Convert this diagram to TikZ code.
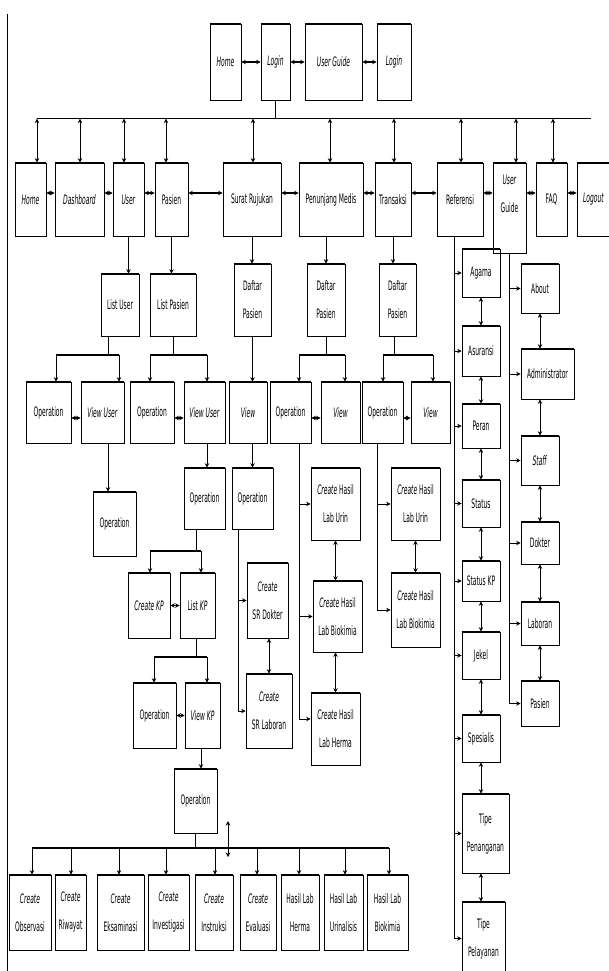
\documentclass[tikz,border=0pt]{standalone}
\usepackage{fontspec}
\newfontfamily\diafont{DejaVu Sans}[FakeStretch=0.46]
\usetikzlibrary{arrows.meta}

\tikzset{
  box/.style={draw, line width=0.7pt, inner sep=1pt, align=center,
    font=\diafont\fontsize{13}{28}\selectfont},
  edge/.style={line width=1.6pt},
  con/.style={line width=0.8pt},
  link/.style={<->, line width=1.3pt},
  bus/.style={line width=1.6pt},
}

\begin{document}
\begin{tikzpicture}[x=1pt,y=-1pt,>={Stealth[length=4.5pt,width=4.5pt]}]
  \useasboundingbox (0,0) rectangle (608,971);
  \draw[line width=0.8pt] (7,14) -- (7,971);

  % top row
  \node[box, minimum width=31, minimum height=76] (tHome)   at (225.5,62) {\textit{Home}};
  \node[box, minimum width=29, minimum height=76] (tLogin)  at (275.5,62) {\textit{Login}};
  \node[box, minimum width=57, minimum height=76] (tGuide)  at (333.5,62) {\textit{User Guide}};
  \node[box, minimum width=34, minimum height=76] (tLogin2) at (394,62)   {\textit{Login}};

  % main menu
  \node[box, minimum width=31, minimum height=73] (home)      at (30.5,199.5)  {\textit{Home}};
  \node[box, minimum width=49, minimum height=73] (dash)      at (79.5,199.5)  {\textit{Dashboard}};
  \node[box, minimum width=31, minimum height=73] (user)      at (128.5,199.5) {\textit{User}};
  \node[box, minimum width=33, minimum height=73] (pasien)    at (171.5,199.5) {Pasien};
  \node[box, minimum width=58, minimum height=73] (surat)     at (252,199.5)   {Surat Rujukan};
  \node[box, minimum width=64, minimum height=73] (penunjang) at (331,199.5)   {Penunjang Medis};
  \node[box, minimum width=36, minimum height=73] (transaksi) at (393,199.5)   {Transaksi};
  \node[box, minimum width=46, minimum height=73] (referensi) at (460,199.5)   {Referensi};
  \node[box, minimum width=33, minimum height=90] (guide)     at (509.5,208)   {\textit{User}\\Guide\\\mbox{}};
  \node[box, minimum width=31, minimum height=73] (faq)       at (551.5,199.5) {FAQ};
  \node[box, minimum width=33, minimum height=73] (logout)    at (593.5,199.5) {\textit{Logout}};

  % lists
  \node[box, minimum width=38, minimum height=62] (listUser)   at (120,305)   {List User};
  \node[box, minimum width=46, minimum height=62] (listPasien) at (173,305)   {List Pasien};
  \node[box, minimum width=37, minimum height=72] (daftarSR)   at (252.5,300) {Daftar\\Pasien};
  \node[box, minimum width=38, minimum height=72] (daftarPM)   at (326,300)   {Daftar\\Pasien};
  \node[box, minimum width=37, minimum height=72] (daftarTR)   at (397.5,300) {Daftar\\Pasien};

  % operation / view
  \node[box, minimum width=45, minimum height=61] (opU)    at (48.5,412.5)  {Operation};
  \node[box, minimum width=43, minimum height=61] (viewU)  at (102.5,412.5) {\textit{View User}};
  \node[box, minimum width=44, minimum height=61] (opP)    at (152,412.5)   {Operation};
  \node[box, minimum width=41, minimum height=61] (viewP)  at (204.5,412.5) {\textit{View User}};
  \node[box, minimum width=38, minimum height=61] (viewSR) at (248,412.5)   {\textit{View}};
  \node[box, minimum width=41, minimum height=61] (opPM)   at (290.5,412.5) {Operation};
  \node[box, minimum width=39, minimum height=61] (viewPM) at (340.5,412.5) {\textit{View}};
  \node[box, minimum width=41, minimum height=61] (opTR)   at (382.5,412.5) {Operation};
  \node[box, minimum width=39, minimum height=61] (viewTR) at (430.5,412.5) {\textit{View}};

  \node[box, minimum width=43, minimum height=64] (opUv)   at (114.5,524)   {Operation};
  \node[box, minimum width=41, minimum height=61] (opPv)   at (204.5,498.5) {Operation};
  \node[box, minimum width=41, minimum height=61] (opSR)   at (252.5,498.5) {Operation};
  \node[box, minimum width=49, minimum height=72] (urinPM) at (335.5,504)   {\textit{Create} Hasil\\Lab Urin};
  \node[box, minimum width=49, minimum height=72] (urinTR) at (415.5,504)   {\textit{Create} Hasil\\Lab Urin};

  \node[box, minimum width=42, minimum height=65] (createKP) at (149,605.5)   {\textit{Create KP}};
  \node[box, minimum width=35, minimum height=65] (listKP)   at (197.5,605.5) {List \textit{KP}};
  \node[box, minimum width=41, minimum height=75] (srDokter) at (267.5,600.5) {\textit{Create}\\SR Dokter};
  \node[box, minimum width=49, minimum height=71] (bioPM)    at (337.5,616.5) {\textit{Create} Hasil\\Lab Biokimia};
  \node[box, minimum width=49, minimum height=74] (bioTR)    at (415.5,610)   {\textit{Create} Hasil\\Lab Biokimia};

  \node[box, minimum width=43, minimum height=65] (opKP)   at (154.5,715.5) {Operation};
  \node[box, minimum width=35, minimum height=65] (viewKP) at (202.5,715.5) {\textit{View KP}};
  \node[box, minimum width=46, minimum height=74] (srLab)  at (269,711)     {\textit{Create}\\SR Laboran};
  \node[box, minimum width=49, minimum height=72] (herma)  at (335.5,729)   {\textit{Create} Hasil\\Lab Herma};

  \node[box, minimum width=43, minimum height=64] (opFin)  at (195.5,801)   {Operation};

  % bottom row
  \node[box, minimum width=42, minimum height=75] (observasi)   at (30,912.5)    {\textit{Create}\\Observasi};
  \node[box, minimum width=31, minimum height=75] (riwayat)     at (70.5,912.5)  {\textit{Create}\\Riwayat};
  \node[box, minimum width=47, minimum height=75] (eksaminasi)  at (120.5,912.5) {\textit{Create}\\Eksaminasi};
  \node[box, minimum width=41, minimum height=75] (investigasi) at (168.5,912.5) {\textit{Create}\\Investigasi};
  \node[box, minimum width=38, minimum height=75] (instruksi)   at (214,912.5)   {\textit{Create}\\Instruksi};
  \node[box, minimum width=36, minimum height=75] (evaluasi)    at (258,912.5)   {\textit{Create}\\Evaluasi};
  \node[box, minimum width=38, minimum height=75] (hHerma)      at (300,912.5)   {Hasil Lab\\Herma};
  \node[box, minimum width=39, minimum height=75] (hUrin)       at (343.5,912.5) {Hasil Lab\\Urinalisis};
  \node[box, minimum width=41, minimum height=75] (hBio)        at (387.5,912.5) {Hasil Lab\\Biokimia};

  % referensi
  \node[box, minimum width=38, minimum height=48] (agama)     at (481,273)     {Agama};
  \node[box, minimum width=38, minimum height=50] (asuransi)  at (481,351)     {Asuransi};
  \node[box, minimum width=38, minimum height=44] (peran)     at (481,426)     {Peran};
  \node[box, minimum width=38, minimum height=47] (status)    at (481,503.5)   {Status};
  \node[box, minimum width=38, minimum height=40] (statusKP)  at (481,581)     {Status KP};
  \node[box, minimum width=38, minimum height=47] (jekel)     at (481,655.5)   {Jekel};
  \node[box, minimum width=38, minimum height=47] (spesialis) at (481,738.5)   {Spesialis};
  \node[box, minimum width=47, minimum height=79] (tipePen)   at (485.5,833.5) {Tipe\\Penanganan};
  \node[box, minimum width=43, minimum height=73] (tipePel)   at (483.5,938.5) {Tipe\\Pelayanan};

  % user guide
  \node[box, minimum width=38, minimum height=49] (about)   at (540,288.5)   {About};
  \node[box, minimum width=53, minimum height=50] (admin)   at (547.5,374)   {Administrator};
  \node[box, minimum width=38, minimum height=49] (staff)   at (540,460.5)   {\textit{Staff}};
  \node[box, minimum width=38, minimum height=42] (dokter)  at (540,543)     {Dokter};
  \node[box, minimum width=38, minimum height=43] (laboran) at (540,623.5)   {Laboran};
  \node[box, minimum width=38, minimum height=45] (pasienG) at (540,703.5)   {Pasien};

  % heavy top and bottom edges
  \foreach \n in {tHome,tLogin,tGuide,tLogin2,home,dash,user,pasien,surat,penunjang,
    transaksi,referensi,guide,faq,logout,listUser,listPasien,daftarSR,daftarPM,daftarTR,
    opU,viewU,opP,viewP,viewSR,opPM,viewPM,opTR,viewTR,opUv,opPv,opSR,urinPM,urinTR,
    createKP,listKP,srDokter,bioPM,bioTR,opKP,viewKP,srLab,herma,opFin,
    observasi,riwayat,eksaminasi,investigasi,instruksi,evaluasi,hHerma,hUrin,hBio,
    agama,asuransi,peran,status,statusKP,jekel,spesialis,tipePen,tipePel,
    about,admin,staff,dokter,laboran,pasienG}
    \draw[edge] (\n.north west) -- (\n.north east) (\n.south west) -- (\n.south east);

  % top links and bus
  \draw[link] (tHome) -- (tLogin);
  \draw[link] (tLogin) -- (tGuide);
  \draw[link] (tGuide) -- (tLogin2);
  \coordinate (busL) at (37,118.6);
  \coordinate (busR) at (591,118.6);
  \draw[con] (tLogin.south) -- (tLogin.south |- busL);
  \draw[bus] (busL) -- (busR);
  \foreach \x/\n in {37/home,80/dash,124/user,166/pasien,253/surat,330/penunjang,
    394/transaksi,461/referensi,516/guide,553/faq} {
    \coordinate (d) at (\x,118.6);
    \draw[con,<->] (d) -- (d |- \n.north);
  }
  \coordinate (r2) at (0,193);
  \foreach \a/\b in {home/dash,dash/user,user/pasien,pasien/surat,surat/penunjang,
    penunjang/transaksi,transaksi/referensi,referensi/guide,guide/faq,faq/logout}
    \draw[link] (\a.east |- r2) -- (\b.west |- r2);

  % menu to lists
  \draw[con,->] (user.south) -- (user.south |- listUser.north);
  \draw[con,->] (pasien.south) -- (pasien.south |- listPasien.north);
  \draw[con,->] (surat.south) -- (surat.south |- daftarSR.north);
  \draw[con,->] (daftarPM.north |- penunjang.south) -- (daftarPM.north);
  \draw[con,->] (transaksi.south) -- (transaksi.south |- daftarTR.north);

  % list buses
  \coordinate (uA) at (56,355);  \coordinate (uS) at (108,355); \coordinate (uB) at (119,355);
  \coordinate (pA) at (150,355); \coordinate (pB) at (207,355);
  \coordinate (mA) at (299,355); \coordinate (mB) at (345,355);
  \coordinate (tA) at (383,355); \coordinate (tS) at (394,355); \coordinate (tB) at (433,355);
  \draw[con] (uS |- listUser.south) -- (uS);
  \draw[con] (listPasien.south) -- (listPasien.south |- pA);
  \draw[con] (daftarPM.south) -- (daftarPM.south |- mA);
  \draw[con] (tS |- daftarTR.south) -- (tS);
  \draw[bus] (uA) -- (uB) (pA) -- (pB) (mA) -- (mB) (tA) -- (tB);
  \draw[con,->] (uA) -- (uA |- opU.north);
  \draw[con,->] (uB) -- (uB |- viewU.north);
  \draw[con,->] (pA) -- (pA |- opP.north);
  \draw[con,->] (pB) -- (pB |- viewP.north);
  \draw[con,->] (mA) -- (mA |- opPM.north);
  \draw[con,->] (mB) -- (mB |- viewPM.north);
  \draw[con,->] (tA) -- (tA |- opTR.north);
  \draw[con,->] (tB) -- (tB |- viewTR.north);
  \draw[con,->] (daftarSR.south) -- (daftarSR.south |- viewSR.north);

  \coordinate (r4) at (0,418);
  \foreach \a/\b in {opU/viewU,opP/viewP,opPM/viewPM,opTR/viewTR}
    \draw[link] (\a.east |- r4) -- (\b.west |- r4);

  % view to operation
  \draw[con,->] (uS |- viewU.south) -- (uS |- opUv.north);
  \draw[con,->] (pB |- viewP.south) -- (pB |- opPv.north);
  \draw[con,->] (daftarSR.south |- viewSR.south) -- (daftarSR.south |- opSR.north);

  % penunjang medis
  \coordinate (mH) at (299,719);
  \draw[con] (mA |- opPM.south) -- (mH);
  \draw[con,->] (mA |- urinPM.west) -- (urinPM.west);
  \draw[con,->] (mA |- bioPM.west) -- (bioPM.west);
  \draw[con,->] (mH) -- (mH -| herma.west);
  \draw[con,<->] (urinPM.south) -- (urinPM.south |- bioPM.north);
  \draw[con,<->] (urinPM.south |- bioPM.south) -- (urinPM.south |- herma.north);

  % transaksi
  \coordinate (tL) at (377,0);
  \draw[con] (tL |- opTR.south) -- (tL |- bioTR.west);
  \draw[con,->] (tL |- urinTR.west) -- (urinTR.west);
  \draw[con,->] (tL |- bioTR.west) -- (bioTR.west);
  \draw[con,<->] (urinTR) -- (bioTR);

  % surat rujukan
  \coordinate (sL) at (238,0);
  \draw[con] (sL |- opSR.south) -- (sL |- srLab.west);
  \draw[con,->] (sL |- srDokter.west) -- (srDokter.west);
  \draw[con,->] (sL |- srLab.west) -- (srLab.west);
  \draw[con,<->] (srLab.north |- srDokter.south) -- (srLab.north);

  % kartu pasien
  \coordinate (kA) at (150,551); \coordinate (kS) at (196,551); \coordinate (kB) at (201,551);
  \draw[con] (kS |- opPv.south) -- (kS);
  \draw[bus] (kA) -- (kB);
  \draw[con,->] (kA) -- (kA |- createKP.north);
  \draw[con,->] (kB) -- (kB |- listKP.north);
  \draw[link] (createKP) -- (listKP);
  \coordinate (lA) at (154,657); \coordinate (lB) at (207,657);
  \draw[con] (kS |- listKP.south) -- (kS |- lA);
  \draw[bus] (lA) -- (lB);
  \draw[con,->] (lA) -- (lA |- opKP.north);
  \draw[con,->] (lB) -- (lB |- viewKP.north);
  \draw[link] (opKP) -- (viewKP);
  \coordinate (vF) at (201,0);
  \draw[con,->] (vF |- viewKP.south) -- (vF |- opFin.north);

  % bottom bus
  \coordinate (fA) at (32,848); \coordinate (fB) at (389,848);
  \draw[con] (opFin.south) -- (opFin.south |- fA);
  \draw[bus] (fA) -- (fB);
  \foreach \x/\n in {32/observasi,71/riwayat,119/eksaminasi,166/investigasi,215/instruksi,
    257/evaluasi,299/hHerma,345/hUrin,389/hBio} {
    \coordinate (d) at (\x,848);
    \draw[con,->] (d) -- (d |- \n.north);
  }
  \coordinate (zA) at (228,821); \coordinate (zB) at (228,857);
  \draw[con,<->] (zA) -- (zB);

  % referensi column
  \coordinate (refX) at (454,0);
  \coordinate (refC) at (481,0);
  \draw[con] (refX |- referensi.south) -- (refX |- tipePel.west);
  \foreach \n in {agama,asuransi,peran,status,statusKP,jekel,spesialis,tipePen,tipePel}
    \draw[con,->] (refX |- \n.west) -- (\n.west);
  \foreach \a/\b in {agama/asuransi,asuransi/peran,peran/status,status/statusKP,
    statusKP/jekel,jekel/spesialis,spesialis/tipePen,tipePen/tipePel}
    \draw[con,<->] (refC |- \a.south) -- (refC |- \b.north);

  % user guide column
  \coordinate (gC) at (540,0);
  \draw[con] (guide.south) -- (guide.south |- pasienG.west);
  \foreach \n in {about,admin,staff,dokter,laboran,pasienG}
    \draw[con,->] (guide.south |- \n.west) -- (\n.west);
  \foreach \a/\b in {about/admin,admin/staff,staff/dokter,dokter/laboran,laboran/pasienG}
    \draw[con,<->] (gC |- \a.south) -- (gC |- \b.north);
\end{tikzpicture}
\end{document}
